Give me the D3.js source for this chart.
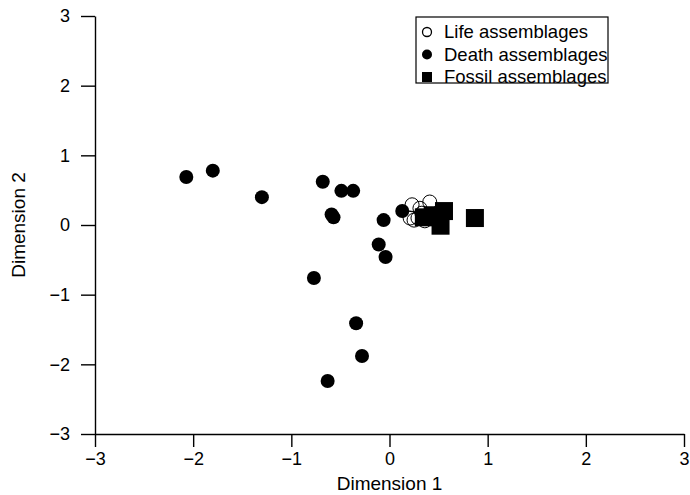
<!DOCTYPE html>
<html>
<head>
<meta charset="utf-8">
<script src="https://cdn.jsdelivr.net/npm/d3@7"></script>
<style>
  body { margin: 0; background: #fff; }
  text { font-family: "Liberation Sans", Arial, sans-serif; fill: #000; }
</style>
</head>
<body>
<div id="chart"></div>
<script>
// Life assemblages (open circles)
const lifeX = [0.23, 0.41, 0.21, 0.25, 0.29, 0.33, 0.36, 0.31];
const lifeY = [0.29, 0.33, 0.10, 0.07, 0.10, 0.17, 0.06, 0.24];

// Death assemblages (filled circles)
const deathX = [-2.07, -1.80, -1.30, -0.68, -0.49, -0.37, -0.59, -0.57, -0.06, -0.11, -0.04, -0.77, -0.34, -0.28, -0.63, 0.13];
const deathY = [0.69, 0.78, 0.40, 0.62, 0.49, 0.49, 0.15, 0.11, 0.07, -0.28, -0.46, -0.76, -1.41, -1.88, -2.24, 0.20];

// Fossil assemblages (squares)
const fossilX = [0.35, 0.44, 0.555, 0.52, 0.87];
const fossilY = [0.11, 0.14, 0.20, -0.01, 0.10];

const xTicks = [-3, -2, -1, 0, 1, 2, 3];
const yTicks = [-3, -2, -1, 0, 1, 2, 3];
const legendLabels = ["Life assemblages", "Death assemblages", "Fossil assemblages"];

const width = 690;
const height = 495;
const margin = { top: 16, right: 6, bottom: 61, left: 95 };

const svg = d3.select("#chart")
    .append("svg")
    .attr("width", width)
    .attr("height", height);

const x = d3.scaleLinear().domain([-3, 3]).range([margin.left, width - margin.right]);
const y = d3.scaleLinear().domain([-3, 3]).range([height - margin.bottom, margin.top]);

// axes
const xAxis = svg.append("g")
    .attr("transform", `translate(0,${height - margin.bottom})`)
    .call(d3.axisBottom(x).tickValues(xTicks).tickFormat(d3.format("d"))
        .tickSize(13).tickSizeOuter(0).tickPadding(5));

const yAxis = svg.append("g")
    .attr("transform", `translate(${margin.left},0)`)
    .call(d3.axisLeft(y).tickValues(yTicks).tickFormat(d3.format("d"))
        .tickSize(14).tickSizeOuter(0).tickPadding(11));

[xAxis, yAxis].forEach(g => {
    g.selectAll("path, line").attr("stroke", "#000").attr("stroke-width", 1.4);
    g.selectAll("text").style("font-size", "18px");
});

// axis titles
svg.append("text")
    .attr("x", x(0))
    .attr("y", 483)
    .attr("dy", "0.35em")
    .attr("text-anchor", "middle")
    .style("font-size", "19px")
    .text("Dimension 1");

svg.append("text")
    .attr("transform", `translate(18,${y(0)}) rotate(-90)`)
    .attr("dy", "0.35em")
    .attr("text-anchor", "middle")
    .style("font-size", "19px")
    .text("Dimension 2");

// points
const plot = svg.append("g");

plot.selectAll(".life")
    .data(d3.zip(lifeX, lifeY))
    .enter().append("circle")
    .attr("class", "life")
    .attr("cx", d => x(d[0]))
    .attr("cy", d => y(d[1]))
    .attr("r", 7)
    .attr("fill", "none")
    .attr("stroke", "#000")
    .attr("stroke-width", 1);

plot.selectAll(".death")
    .data(d3.zip(deathX, deathY))
    .enter().append("circle")
    .attr("class", "death")
    .attr("cx", d => x(d[0]))
    .attr("cy", d => y(d[1]))
    .attr("r", 7)
    .attr("fill", "#000");

const sq = 18;
plot.selectAll(".fossil")
    .data(d3.zip(fossilX, fossilY))
    .enter().append("rect")
    .attr("class", "fossil")
    .attr("x", d => x(d[0]) - sq / 2)
    .attr("y", d => y(d[1]) - sq / 2)
    .attr("width", sq)
    .attr("height", sq)
    .attr("fill", "#000");

// legend
const legend = svg.append("g").attr("transform", "translate(416,17)");

legend.append("rect")
    .attr("width", 192)
    .attr("height", 66)
    .attr("fill", "#fff")
    .attr("stroke", "#000")
    .attr("stroke-width", 1.2);

const rows = legend.selectAll(".row")
    .data(legendLabels)
    .enter().append("g")
    .attr("class", "row")
    .attr("transform", (d, i) => `translate(0,${15 + i * 22.5})`);

rows.each(function (d, i) {
    const g = d3.select(this);
    if (i === 0) {
        g.append("circle").attr("cx", 11).attr("r", 4.5)
            .attr("fill", "none").attr("stroke", "#000").attr("stroke-width", 1.3);
    } else if (i === 1) {
        g.append("circle").attr("cx", 11).attr("r", 5).attr("fill", "#000");
    } else {
        g.append("rect").attr("x", 6).attr("y", -5).attr("width", 10).attr("height", 10).attr("fill", "#000");
    }
});

rows.append("text")
    .attr("x", 28)
    .attr("dy", "0.35em")
    .style("font-size", "18.5px")
    .text(d => d);
</script>
</body>
</html>
